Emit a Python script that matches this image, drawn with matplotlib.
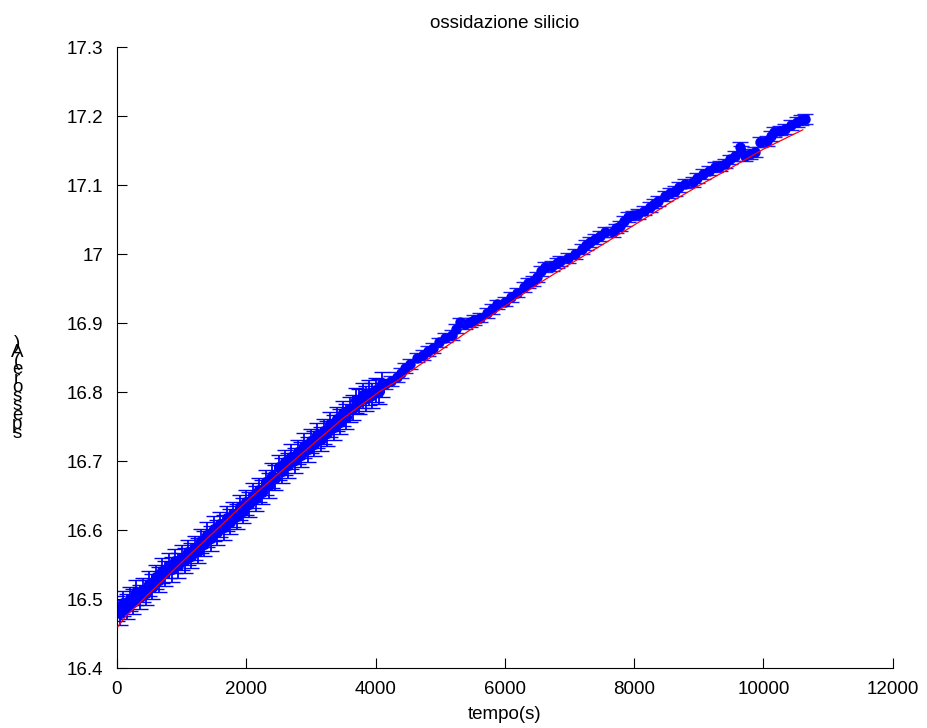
import numpy as np
import matplotlib
matplotlib.use("Agg")
import matplotlib.pyplot as plt

plt.rcParams['font.family'] = ['Liberation Sans', 'DejaVu Sans']

t_early = [0, 50, 100, 150, 200, 250, 300, 350, 400, 450,
           500, 550, 600, 650, 700, 750, 800, 850, 900, 950,
           1000, 1050, 1100, 1150, 1200, 1250, 1300, 1350, 1400, 1450,
           1500, 1550, 1600, 1650, 1700, 1750, 1800, 1850, 1900, 1950,
           2000, 2050, 2100, 2150, 2200, 2250, 2300, 2350, 2400, 2450,
           2500, 2550, 2600, 2650, 2700, 2750, 2800, 2850, 2900, 2950,
           3000, 3050, 3100, 3150, 3200, 3250, 3300, 3350, 3400, 3450,
           3500, 3550, 3600, 3650, 3700, 3750, 3800, 3850, 3900, 3950,
           4000, 4050, 4100]
s_early = [16.486, 16.480, 16.494, 16.489, 16.500, 16.496, 16.510, 16.503, 16.513, 16.509,
           16.522, 16.518, 16.532, 16.528, 16.541, 16.537, 16.548, 16.543, 16.555, 16.549,
           16.560, 16.556, 16.568, 16.563, 16.574, 16.570, 16.584, 16.580, 16.593, 16.588,
           16.602, 16.597, 16.608, 16.604, 16.617, 16.612, 16.623, 16.620, 16.633, 16.628,
           16.640, 16.637, 16.650, 16.646, 16.658, 16.655, 16.669, 16.665, 16.679, 16.676,
           16.691, 16.686, 16.698, 16.694, 16.706, 16.701, 16.713, 16.709, 16.722, 16.717,
           16.729, 16.725, 16.737, 16.732, 16.743, 16.740, 16.753, 16.749, 16.761, 16.757,
           16.769, 16.764, 16.775, 16.777, 16.788, 16.786, 16.795, 16.791, 16.799, 16.795,
           16.803, 16.801, 16.811]
err_early = 0.018

t_late = [4150, 4240, 4330, 4390, 4450, 4540, 4640, 4730, 4810, 4890,
          4980, 5070, 5180, 5240, 5300, 5380, 5460, 5530, 5610, 5720,
          5800, 5880, 6000, 6090, 6190, 6300, 6360, 6430, 6500, 6560,
          6620, 6730, 6800, 6860, 6970, 7090, 7200, 7260, 7320, 7400,
          7470, 7550, 7670, 7720, 7780, 7840, 7900, 7980, 8060, 8150,
          8240, 8310, 8370, 8470, 8550, 8630, 8700, 8780, 8910, 8980,
          9060, 9160, 9250, 9330, 9400, 9480, 9560, 9630, 9660, 9710,
          9790, 9870, 9940, 10050, 10110, 10170, 10250, 10330, 10420, 10520,
          10580, 10640]
s_late = [16.811, 16.816, 16.822, 16.828, 16.835, 16.841, 16.850, 16.854, 16.859, 16.864,
          16.872, 16.879, 16.883, 16.892, 16.901, 16.898, 16.901, 16.904, 16.908, 16.915,
          16.920, 16.927, 16.931, 16.938, 16.944, 16.952, 16.958, 16.961, 16.967, 16.975,
          16.981, 16.983, 16.987, 16.990, 16.994, 17.000, 17.007, 17.013, 17.017, 17.022,
          17.026, 17.032, 17.032, 17.037, 17.041, 17.048, 17.054, 17.056, 17.058, 17.063,
          17.068, 17.073, 17.077, 17.084, 17.088, 17.091, 17.097, 17.102, 17.104, 17.110,
          17.116, 17.121, 17.126, 17.128, 17.131, 17.137, 17.142, 17.155, 17.150, 17.142,
          17.145, 17.148, 17.162, 17.164, 17.171, 17.177, 17.179, 17.181, 17.187, 17.191,
          17.194, 17.196]
err_late = 0.007

# fitted curve
t_fit = [15, 120, 226, 500, 1000, 1500, 2057, 2366, 3000, 3500, 4067, 4330, 5000,
         5600, 6232, 6588, 7000, 7500, 8000, 8397, 8598, 9000, 9500, 10000, 10608]
s_fit = [16.460, 16.473, 16.483, 16.508, 16.553, 16.597, 16.646, 16.671, 16.722, 16.762,
         16.801, 16.816, 16.860, 16.899, 16.939, 16.961, 16.985, 17.013, 17.042, 17.065,
         17.077, 17.099, 17.125, 17.152, 17.180]

fig = plt.figure(figsize=(9.28, 7.28), dpi=100)
ax = fig.add_axes([0.126, 0.0824, 0.836, 0.853])

ax.errorbar(t_early, s_early, yerr=err_early, fmt='o', color='#0000ff', ms=7,
            mfc='#0000ff', mec='#0000ff', elinewidth=1.3, ecolor='#0000ff',
            capsize=6, capthick=1.0, zorder=2)
ax.errorbar(t_late, s_late, yerr=err_late, fmt='o', color='#0000ff', ms=6.5,
            mfc='#0000ff', mec='#0000ff', elinewidth=0.8, ecolor='#1a1aff',
            capsize=6, capthick=1.0, zorder=2)
ax.plot(t_fit, s_fit, color='red', lw=0.9, zorder=3)

ax.set_xlim(0, 12000)
ax.set_ylim(16.4, 17.3)
ax.set_xticks([0, 2000, 4000, 6000, 8000, 10000, 12000])
ax.set_yticks([16.4, 16.5, 16.6, 16.7, 16.8, 16.9, 17.0, 17.1, 17.2, 17.3])
ax.set_yticklabels(['16.4', '16.5', '16.6', '16.7', '16.8', '16.9', '17', '17.1', '17.2', '17.3'])
ax.tick_params(direction='in', length=7, width=0.8, labelsize=13.5)
ax.tick_params(axis='y', pad=10)
ax.tick_params(axis='x', pad=9)
ax.spines['top'].set_visible(False)
ax.spines['right'].set_visible(False)
for sp in ['left', 'bottom']:
    ax.spines[sp].set_linewidth(0.8)

ax.set_title('ossidazione silicio', fontsize=13.5, pad=14)
ax.set_xlabel('tempo(s)', fontsize=13.5, labelpad=6)

# stacked y label characters
label = 'spessore(A)'
for i, ch in enumerate(label):
    py = 433 - i * 9
    fig.text(17 / 928, 1 - py / 728, ch, fontsize=13.5, ha='center', va='center')

fig.savefig('out.png', dpi=100)
